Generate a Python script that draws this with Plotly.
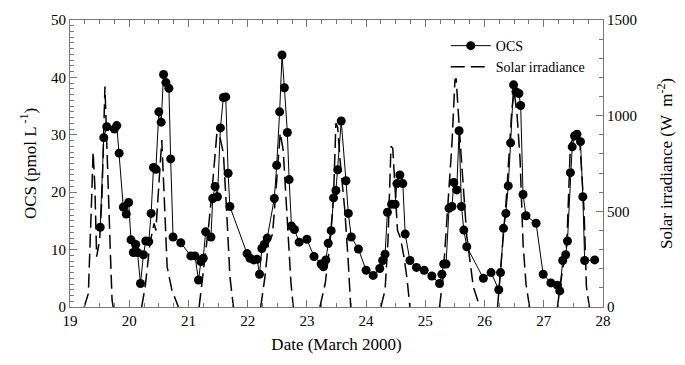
import plotly.graph_objects as go

# OCS measurements
ocs_date = [19.51, 19.57, 19.62, 19.75, 19.79, 19.83, 19.90, 19.95, 19.99, 20.03,
            20.07, 20.11, 20.14, 20.19, 20.24, 20.28, 20.33, 20.37, 20.41, 20.45,
            20.50, 20.54, 20.58, 20.62, 20.67, 20.70, 20.74, 20.87, 21.04, 21.11,
            21.17, 21.21, 21.25, 21.29, 21.38, 21.41, 21.45, 21.49, 21.54, 21.59,
            21.63, 21.67, 21.70, 21.99, 22.04, 22.10, 22.16, 22.20, 22.24, 22.28,
            22.33, 22.45, 22.49, 22.54, 22.58, 22.62, 22.67, 22.70, 22.74, 22.79,
            22.87, 23.00, 23.12, 23.24, 23.28, 23.32, 23.36, 23.41, 23.45, 23.49,
            23.52, 23.58, 23.66, 23.70, 23.75, 23.87, 24.00, 24.12, 24.23, 24.28,
            24.32, 24.36, 24.43, 24.49, 24.52, 24.57, 24.62, 24.66, 24.74, 24.85,
            24.98, 25.11, 25.24, 25.28, 25.31, 25.35, 25.40, 25.45, 25.48, 25.53,
            25.57, 25.61, 25.65, 25.70, 25.98, 26.11, 26.24, 26.27, 26.32, 26.36,
            26.40, 26.44, 26.49, 26.53, 26.58, 26.61, 26.65, 26.70, 26.87, 26.99,
            27.12, 27.23, 27.27, 27.32, 27.37, 27.40, 27.45, 27.48, 27.52, 27.56,
            27.62, 27.66, 27.69, 27.86]
ocs_value = [13.9, 29.5, 31.4, 31.0, 31.6, 26.8, 17.4, 16.2, 18.2, 11.7,
             9.5, 10.9, 9.5, 4.1, 9.1, 11.5, 11.4, 16.3, 24.3, 24.0,
             34.0, 32.2, 40.5, 39.1, 38.1, 25.8, 12.2, 11.2, 8.9, 8.9,
             4.7, 7.9, 8.5, 13.1, 12.2, 18.9, 21.0, 19.2, 31.2, 36.5,
             36.6, 23.3, 17.5, 9.3, 8.5, 8.2, 8.3, 5.7, 10.2, 10.9,
             12.0, 18.9, 24.7, 34.0, 43.9, 38.2, 30.4, 22.2, 14.1, 13.5,
             11.3, 11.8, 8.8, 7.5, 7.0, 8.2, 11.1, 13.3, 19.0, 20.3,
             23.9, 32.4, 22.0, 16.3, 12.2, 10.1, 6.4, 5.5, 6.7, 8.1,
             9.2, 16.5, 17.9, 17.9, 21.5, 23.0, 21.5, 12.7, 8.1, 6.9,
             6.4, 5.4, 4.1, 5.7, 7.5, 7.5, 17.2, 17.5, 21.7, 20.4,
             30.7, 17.5, 13.4, 10.5, 5.0, 6.0, 3.0, 6.0, 13.7, 16.3,
             21.1, 28.6, 38.7, 37.5, 37.2, 35.1, 19.6, 15.9, 14.6, 5.7,
             4.2, 3.8, 2.8, 8.1, 9.1, 11.5, 23.4, 27.9, 29.8, 30.1,
             28.8, 19.2, 8.1, 8.2]

# Solar irradiance, one list per day
sun_d19 = [19.24, 19.31, 19.37, 19.39, 19.42, 19.45, 19.50, 19.54, 19.59, 19.63, 19.68, 19.71, 19.73]
sun_v19 = [0, 71, 611, 812, 629, 263, 350, 577, 1152, 733, 298, 37, 0]
sun_d20 = [20.21, 20.27, 20.35, 20.42, 20.45, 20.48, 20.55, 20.60, 20.64, 20.72, 20.83]
sun_v20 = [0, 106, 333, 437, 400, 560, 873, 507, 211, 89, 0]
sun_d21 = [21.18, 21.25, 21.34, 21.39, 21.48, 21.53, 21.59, 21.65, 21.70, 21.76]
sun_v21 = [0, 176, 420, 577, 908, 890, 803, 472, 159, 0]
sun_d22 = [22.22, 22.29, 22.35, 22.42, 22.48, 22.55, 22.60, 22.65, 22.69, 22.73, 22.77]
sun_v22 = [0, 153, 333, 380, 620, 910, 820, 560, 330, 130, 0]
sun_d23 = [23.22, 23.31, 23.39, 23.45, 23.49, 23.52, 23.56, 23.64, 23.70, 23.74]
sun_v23 = [0, 124, 333, 577, 960, 940, 768, 507, 228, 0]
sun_d24 = [24.25, 24.32, 24.37, 24.40, 24.42, 24.45, 24.49, 24.53, 24.58, 24.64, 24.69, 24.74]
sun_v24 = [0, 89, 350, 700, 840, 830, 600, 400, 360, 260, 150, 0]
sun_d25 = [25.24, 25.30, 25.36, 25.45, 25.50, 25.52, 25.59, 25.70, 25.81, 25.92]
sun_v25 = [0, 159, 437, 855, 1186, 1195, 857, 369, 106, 0]
sun_d26 = [26.22, 26.29, 26.37, 26.46, 26.50, 26.55, 26.60, 26.65, 26.70, 26.76]
sun_v26 = [0, 263, 577, 1030, 1130, 1000, 768, 333, 120, 0]
sun_d27 = [27.23, 27.30, 27.39, 27.45, 27.50, 27.56, 27.61, 27.68, 27.72, 27.77]
sun_v27 = [0, 159, 333, 855, 880, 908, 855, 507, 106, 0]

days_d = [sun_d19, sun_d20, sun_d21, sun_d22, sun_d23, sun_d24, sun_d25, sun_d26, sun_d27]
days_v = [sun_v19, sun_v20, sun_v21, sun_v22, sun_v23, sun_v24, sun_v25, sun_v26, sun_v27]
sun_x, sun_y = [], []
for d, v in zip(days_d, days_v):
    sun_x += d + [None]
    sun_y += v + [None]

FONT = "Liberation Serif"
AXC = "#777777"

fig = go.Figure()
fig.add_trace(go.Scatter(x=ocs_date, y=ocs_value, mode="lines+markers", name="OCS",
                         line=dict(color="black", width=1),
                         marker=dict(color="black", size=9, symbol="circle")))
fig.add_trace(go.Scatter(x=sun_x, y=sun_y, mode="lines", name="Solar irradiance",
                         yaxis="y2", connectgaps=False,
                         line=dict(color="black", width=1.5, dash="14px,6px")))

fig.update_layout(
    width=685, height=365,
    margin=dict(l=70, r=82, t=20, b=58),
    plot_bgcolor="white", paper_bgcolor="white",
    font=dict(family=FONT, size=15, color="black"),
    showlegend=True,
    legend=dict(x=0.705, y=0.965, xanchor="left", yanchor="top",
                bgcolor="rgba(0,0,0,0)", font=dict(size=14, family=FONT),
                tracegroupgap=0, itemwidth=40),
    xaxis=dict(range=[19, 28], dtick=1, tick0=19, showgrid=False, zeroline=False,
               showline=True, linecolor=AXC, linewidth=1, mirror="ticks",
               ticks="inside", ticklen=7, tickcolor=AXC,
               minor=dict(dtick=0.25, ticks="inside", ticklen=4, tickcolor=AXC),
               title=dict(text="Date (March 2000)", font=dict(size=17), standoff=10)),
    yaxis=dict(range=[0, 50], dtick=10, showgrid=False, zeroline=False,
               showline=True, linecolor=AXC, linewidth=1,
               ticks="inside", ticklen=7, tickcolor=AXC,
               minor=dict(dtick=1, ticks="inside", ticklen=4, tickcolor=AXC),
               title=dict(text="OCS (pmol L<sup> -1</sup>)", font=dict(size=17), standoff=10)),
    yaxis2=dict(range=[0, 1500], dtick=500, overlaying="y", side="right",
                showgrid=False, zeroline=False,
                showline=True, linecolor=AXC, linewidth=1,
                ticks="inside", ticklen=7, tickcolor=AXC,
                minor=dict(dtick=100, ticks="inside", ticklen=4, tickcolor=AXC),
                title=dict(text="Solar irradiance (W  m<sup>-2</sup>)", font=dict(size=17), standoff=24)),
)

fig.write_html("out.html")
